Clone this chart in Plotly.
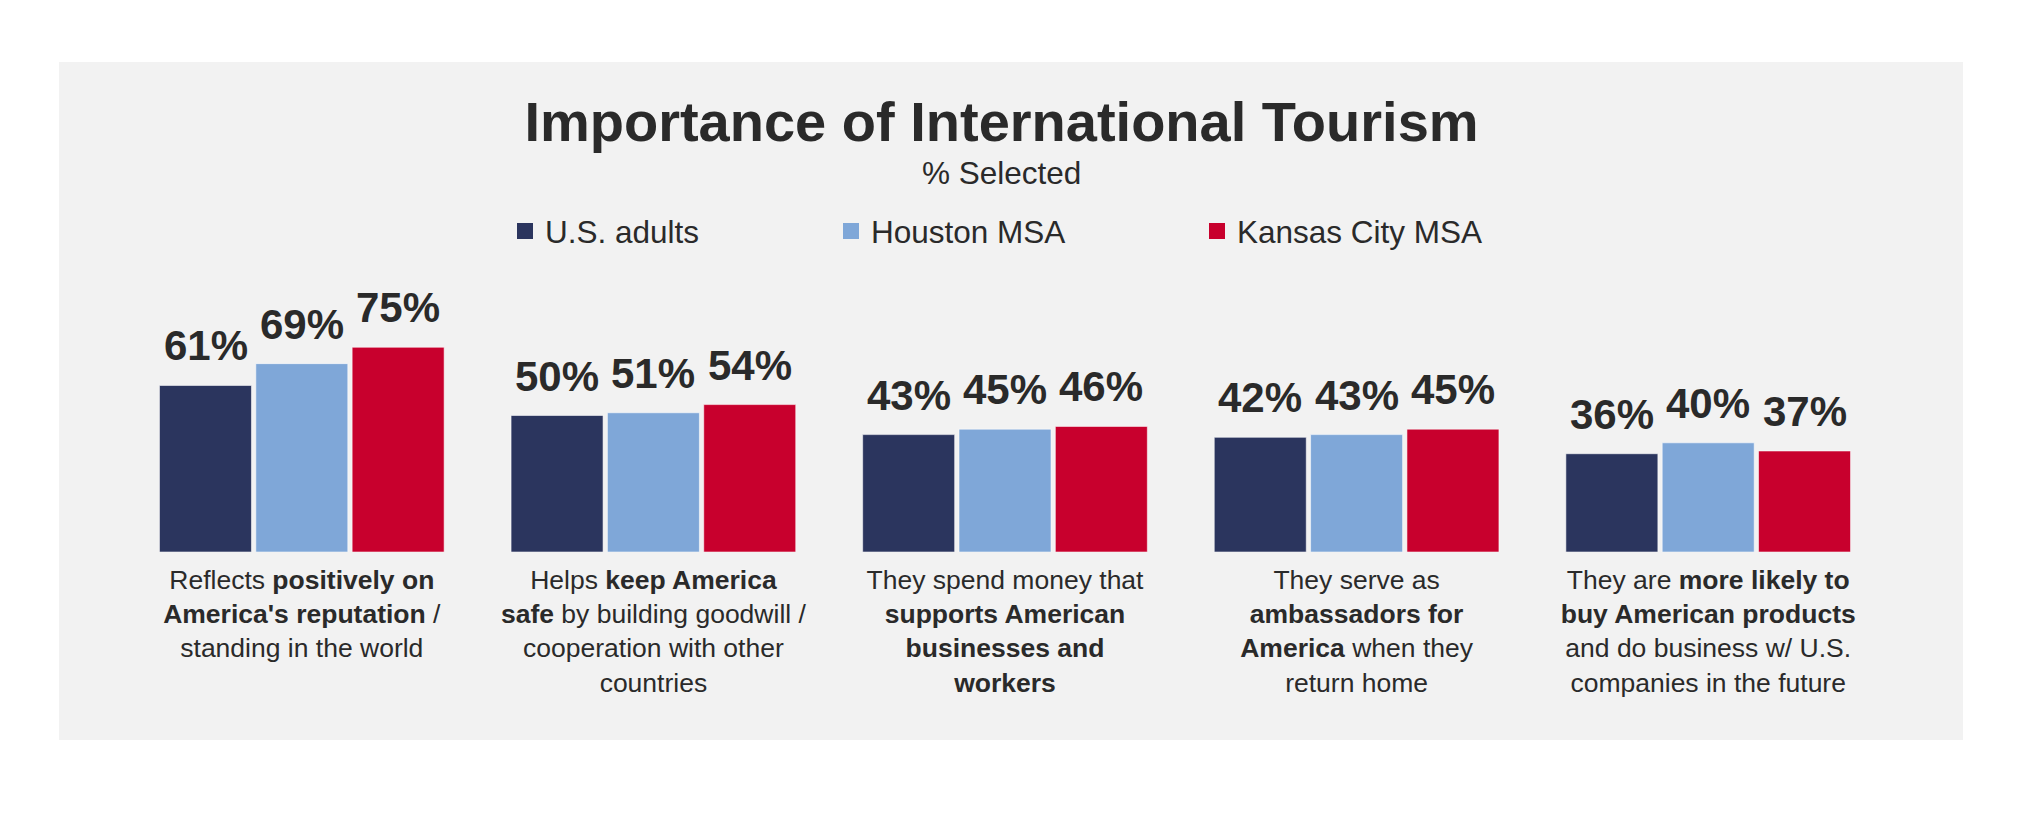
import plotly.graph_objects as go

# ----------------------------------------------------------------------------
# DATA
categories = [
    "Reflects <b>positively on</b><br><b>America's reputation</b> /<br>standing in the world",
    "Helps <b>keep America</b><br><b>safe</b> by building goodwill /<br>cooperation with other<br>countries",
    "They spend money that<br><b>supports American</b><br><b>businesses and</b><br><b>workers</b>",
    "They serve as<br><b>ambassadors for</b><br><b>America</b> when they<br>return home",
    "They are <b>more likely to</b><br><b>buy American products</b><br>and do business w/ U.S.<br>companies in the future",
]
series_names = ["U.S. adults", "Houston MSA", "Kansas City MSA"]
us_adults = [61, 50, 43, 42, 36]
houston = [69, 51, 45, 43, 40]
kansas_city = [75, 54, 46, 45, 37]

title = "Importance of International Tourism"
subtitle = "% Selected"

# ----------------------------------------------------------------------------
# LAYOUT PARAMETERS (pixels, page has an 8px body margin)
W, H = 2036, 824
plot_l, plot_r, plot_t, plot_b = 118, 1876, 271, 544
panel = dict(x0=51, x1=1955, y0=54, y1=732)
slot = 96.3  # bar + gap width, used to offset the value labels

colors = ["#2B355E", "#7FA7D8", "#C8002D"]
text_color = "#2a2a2a"
font_family = "Liberation Sans, Arial, sans-serif"

pw = plot_r - plot_l
ph = plot_b - plot_t


def px_to_paper_x(px):
    return (px - plot_l) / pw


def px_to_paper_y(py):
    return (plot_b - py) / ph


values = [us_adults, houston, kansas_city]
legend_x = [497, 823, 1189]  # left of each legend box
legend_ids = ["legend", "legend2", "legend3"]

# ----------------------------------------------------------------------------
# GRAPH
fig = go.Figure()

for i, name in enumerate(series_names):
    fig.add_trace(go.Bar(x=categories, y=values[i], name=name, showlegend=False,
                         marker=dict(color=colors[i], line=dict(color="rgba(255,255,255,0.55)", width=1)),
                         hoverinfo="skip"))
    # legend entry only (bigger square than the bar legend symbol)
    fig.add_trace(go.Scatter(x=[None], y=[None], name=name, mode="markers", legend=legend_ids[i],
                             marker=dict(symbol="square", size=17, color=colors[i])))

# value labels above the bars
for i in range(len(series_names)):
    for cat, val in zip(categories, values[i]):
        fig.add_annotation(x=cat, y=val, text="<b>%d%%</b>" % val, showarrow=False,
                           xshift=(i - 1) * slot, yshift=14, yanchor="bottom",
                           font=dict(size=42, color=text_color, family=font_family))

# subtitle
fig.add_annotation(xref="paper", yref="paper", x=px_to_paper_x(993), y=px_to_paper_y(165),
                   text=subtitle, showarrow=False, xanchor="center", yanchor="middle",
                   font=dict(size=31.5, color=text_color, family=font_family))

# grey background panel
fig.add_shape(type="rect", xref="paper", yref="paper", layer="below",
              x0=px_to_paper_x(panel["x0"]), x1=px_to_paper_x(panel["x1"]),
              y0=px_to_paper_y(panel["y1"]), y1=px_to_paper_y(panel["y0"]),
              fillcolor="#F2F2F2", line=dict(width=0))

# one legend per series so each entry can be placed like the original
legend_layout = {}
for i, lid in enumerate(legend_ids):
    legend_layout[lid] = dict(orientation="h", xref="container", yref="container",
                              x=legend_x[i] / W, y=1 - 223 / H, xanchor="left", yanchor="middle",
                              bgcolor="rgba(0,0,0,0)", font=dict(size=31.5, color=text_color, family=font_family))

fig.update_layout(**legend_layout)

fig.update_layout(
    width=W, height=H,
    margin=dict(l=plot_l, r=W - plot_r, t=plot_t, b=H - plot_b),
    paper_bgcolor="white", plot_bgcolor="rgba(0,0,0,0)",
    barmode="group", bargap=0.178, bargroupgap=0.045,
    showlegend=True,
    title=dict(text="<b>%s</b>" % title, x=993.5 / W, xanchor="center", y=1 - 113 / H, yanchor="middle",
               xref="container", yref="container",
               font=dict(size=56, color=text_color, family=font_family)),
    font=dict(family=font_family, color=text_color),
)

fig.update_xaxes(showgrid=False, showline=False, zeroline=False, ticks="", ticklabelstandoff=9,
                 tickfont=dict(size=26.5, color=text_color, family=font_family))
fig.update_yaxes(range=[0, 100], visible=False, showgrid=False, zeroline=False)

fig.write_html("out.html")
